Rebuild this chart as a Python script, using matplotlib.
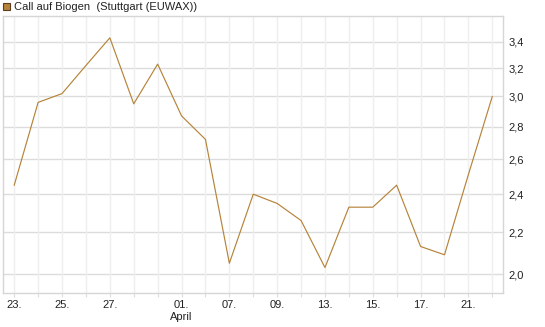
import matplotlib
matplotlib.use('Agg')
from matplotlib import pyplot as plt
from matplotlib.ticker import FixedLocator, FixedFormatter, NullLocator
from matplotlib.patches import Rectangle

plt.rcParams['font.family'] = ['Liberation Sans', 'DejaVu Sans']

# trading days, Mar 23 - Apr 22
days = ['23.', '24.', '25.', '26.', '27.', '30.', '31.', '01.', '02.', '07.',
        '08.', '09.', '10.', '13.', '14.', '15.', '16.', '17.', '20.', '21.', '22.']
prices = [2.45, 2.96, 3.02, 3.22, 3.43, 2.95, 3.23, 2.87, 2.72, 2.05,
          2.40, 2.35, 2.26, 2.03, 2.33, 2.33, 2.45, 2.13, 2.09, 2.51, 3.00]
shown_days = ['23.', '25.', '27.', '01.', '07.', '09.', '13.', '15.', '17.', '21.']
month_label = 'April'
y_ticks = [2.0, 2.2, 2.4, 2.6, 2.8, 3.0, 3.2, 3.4]
title = 'Call auf Biogen  (Stuttgart (EUWAX))'

line_color = '#b5843a'

fig = plt.figure(figsize=(5.45, 3.27), dpi=100)
ax = fig.add_axes([0.0055, 0.103, 0.9175, 0.848])

x = list(range(len(prices)))
ax.plot(x, prices, color=line_color, lw=0.85)

ax.set_yscale('log')
ax.set_ylim(1.914, 3.605)
ax.set_xlim(-0.47, 20.45)

ax.yaxis.set_major_locator(FixedLocator(y_ticks))
ax.yaxis.set_major_formatter(FixedFormatter([('%.1f' % v).replace('.', ',') for v in y_ticks]))
ax.yaxis.set_minor_locator(NullLocator())
ax.yaxis.tick_right()
ax.tick_params(axis='y', length=0, pad=4, labelsize=8, colors='#222222')

ax.xaxis.set_major_locator(FixedLocator(x))
labels = []
for d in days:
    if d in shown_days:
        labels.append(d + '\n' + month_label if d == '01.' else d)
    else:
        labels.append('')
ax.xaxis.set_major_formatter(FixedFormatter(labels))
ax.tick_params(axis='x', length=3, pad=2, labelsize=8, color='#dddddd', labelcolor='#222222')

ax.grid(axis='x', color='#efefef', lw=1)
for v in y_ticks:
    ax.axhline(v, color='#dcdcdc', lw=1, zorder=0)
ax.set_axisbelow(True)

for s in ax.spines.values():
    s.set_color('#d6d6d6')
    s.set_linewidth(1)

# legend box
fig.patches.append(Rectangle((3 / 545, 1 - 10 / 327), 7 / 545, 7 / 327,
                             transform=fig.transFigure, facecolor=line_color,
                             edgecolor='#5a4020', lw=0.8))
fig.text(14 / 545, 1 - 7 / 327, title, fontsize=8, va='center', ha='left', color='#222222')

fig.savefig('out.png', dpi=100)
